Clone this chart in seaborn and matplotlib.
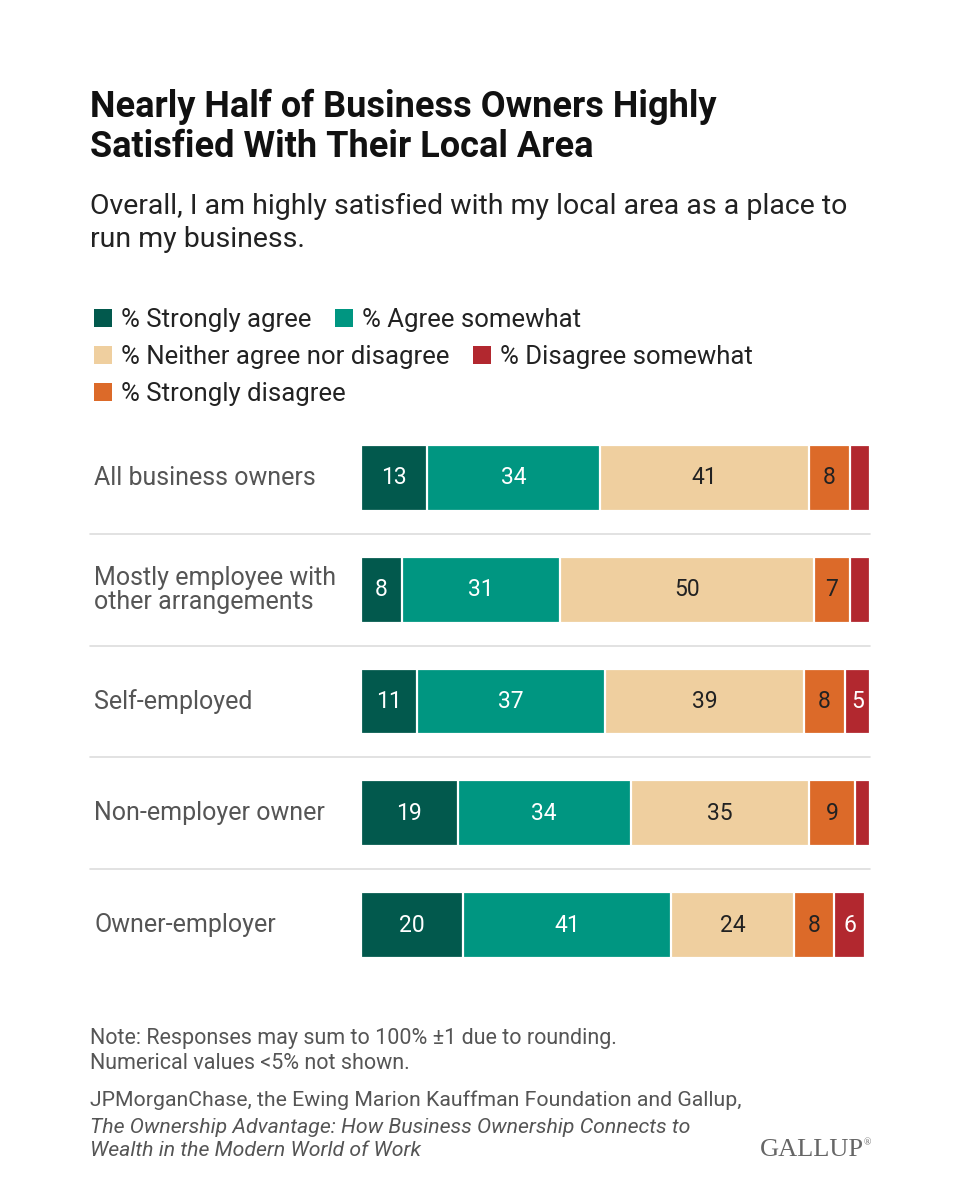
import numpy as np
import pandas as pd
import matplotlib
matplotlib.use('Agg')
import matplotlib.pyplot as plt
import seaborn as sns
from matplotlib.patches import Patch

sns.set_theme(style='white')
plt.rcParams['font.family'] = ['Roboto', 'DejaVu Sans']

# Data
groups = ['All business owners', 'Mostly employee with\nother arrangements',
          'Self-employed', 'Non-employer owner', 'Owner-employer']
strongly_agree = [13, 8, 11, 19, 20]
agree_somewhat = [34, 31, 37, 34, 41]
neither = [41, 50, 39, 35, 24]
strongly_disagree = [8, 7, 8, 9, 8]
disagree_somewhat = [4, 4, 5, 3, 6]

# segment order as drawn in the bars (left to right)
segments = [
    ('% Strongly agree', strongly_agree, '#02594d', 'white'),
    ('% Agree somewhat', agree_somewhat, '#009681', 'white'),
    ('% Neither agree nor disagree', neither, '#efcf9f', '#222222'),
    ('% Strongly disagree', strongly_disagree, '#dc6a29', '#222222'),
    ('% Disagree somewhat', disagree_somewhat, '#b2282f', 'white'),
]

df = pd.DataFrame({'group': groups})
cum = np.zeros(len(groups))
for name, vals, col, tc in segments:
    df[name + '_left'] = cum.copy()
    cum = cum + np.array(vals)
    df[name + '_cum'] = cum.copy()

fig = plt.figure(figsize=(9.6, 12), dpi=100)
ax = fig.add_axes([361 / 960, 1 - 981 / 1200, 509 / 960, 559 / 1200])

# stacked bars: draw cumulative totals from the right-most segment backwards
for name, vals, col, tc in reversed(segments):
    sns.barplot(data=df, x=name + '_cum', y='group', orient='h', color=col,
                width=0.59, edgecolor='white', linewidth=1.6, saturation=1,
                ax=ax)

# value labels (values below 5 not shown)
for name, vals, col, tc in segments:
    for i, v in enumerate(vals):
        if v >= 5:
            x = df.loc[i, name + '_left'] + v / 2
            ax.text(x, i, str(v), ha='center', va='center', fontsize=16.5,
                    color=tc)

ax.set_xlim(0, 100)
ax.set_ylim(len(groups) - 0.5, -0.5)
ax.set_xlabel('')
ax.set_ylabel('')
ax.set_xticks([])
ax.set_yticks([])
for s in ax.spines.values():
    s.set_visible(False)

# separators between rows
x0 = (90 - 361) / 509 * 100
for i in range(len(groups) - 1):
    ax.plot([x0, 100], [i + 0.5, i + 0.5], color='#dddddd', lw=1.2,
            clip_on=False)

# category labels
for i, g in enumerate(groups):
    ax.text(x0 + 0.8, i, g, ha='left', va='center', fontsize=18,
            color='#555555', linespacing=1.0)

# title and subtitle
fig.text(90 / 960, 1 - 89 / 1200,
         'Nearly Half of Business Owners Highly\nSatisfied With Their Local Area',
         ha='left', va='top', fontsize=26, fontweight='bold', color='#111111',
         linespacing=1.15)
fig.text(90 / 960, 1 - 193 / 1200,
         'Overall, I am highly satisfied with my local area as a place to\nrun my business.',
         ha='left', va='top', fontsize=20.5, color='#222222', linespacing=1.3)

# legend in three rows
handles = {name: Patch(facecolor=col, edgecolor='none') for name, vals, col, tc in segments}
rows = [['% Strongly agree', '% Agree somewhat'],
        ['% Neither agree nor disagree', '% Disagree somewhat'],
        ['% Strongly disagree']]
row_y = [320, 357, 394]
for labels, y in zip(rows, row_y):
    fig.legend([handles[l] for l in labels], labels, loc='center left',
               bbox_to_anchor=(84 / 960, 1 - y / 1200), ncol=len(labels),
               frameon=False, fontsize=18.5, handlelength=0.7, handleheight=0.7,
               handletextpad=0.35, columnspacing=0.9, borderaxespad=0,
               labelcolor='#222222')

# notes and source
fig.text(90 / 960, 1 - 1051 / 1200,
         'Note: Responses may sum to 100% \u00b11 due to rounding.\nNumerical values <5% not shown.',
         ha='left', va='center', fontsize=15.5, color='#555555', linespacing=1.22)
fig.text(90 / 960, 1 - 1100 / 1200,
         'JPMorganChase, the Ewing Marion Kauffman Foundation and Gallup,',
         ha='left', va='center', fontsize=15.3, color='#555555')
fig.text(90 / 960, 1 - 1139 / 1200,
         'The Ownership Advantage: How Business Ownership Connects to\nWealth in the Modern World of Work',
         ha='left', va='center', fontsize=15.3, color='#555555', style='italic',
         linespacing=1.28)
fig.text(864 / 960, 1 - 1150 / 1200, 'GALLUP', ha='right', va='center',
         fontsize=19, color='#666666', family=['Liberation Serif', 'DejaVu Serif'])
fig.text(864 / 960, 1 - 1143 / 1200, '\u00ae', ha='left', va='center',
         fontsize=7, color='#666666', family=['Liberation Serif', 'DejaVu Serif'])

fig.savefig('out.png', dpi=100, facecolor='white')
